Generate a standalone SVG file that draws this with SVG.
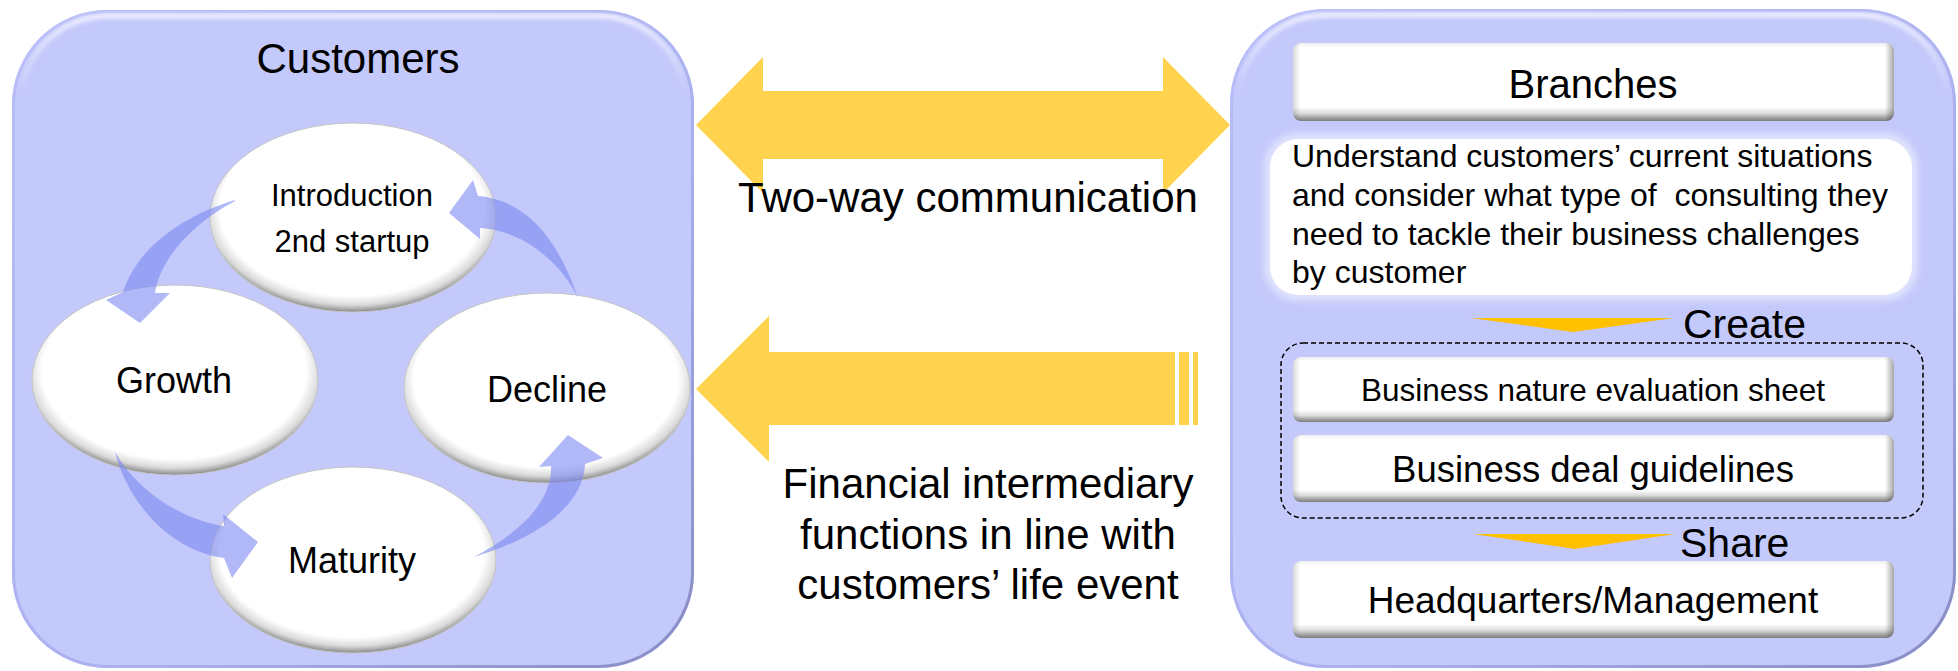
<svg xmlns="http://www.w3.org/2000/svg" width="1958" height="671" viewBox="0 0 1958 671">
<defs>
<style>
.t{font-family:"Liberation Sans",Arial,sans-serif;fill:#000}
.panel{fill:#c4c9fb}
.cyc{fill:#7b88f2;fill-opacity:0.6}
.big{fill:#ffd34e}
.chev{fill:#ffc000}
.ell{fill:url(#ellRim);stroke:#c4c4c4;stroke-width:1}
.box{fill:url(#boxV)}
.boxr{fill:url(#boxH)}
</style>
<radialGradient id="ellRim" cx="0.5" cy="0.46" r="0.55" fx="0.48" fy="0.42">
<stop offset="0" stop-color="#ffffff"/>
<stop offset="0.84" stop-color="#ffffff"/>
<stop offset="0.92" stop-color="#dadada"/>
<stop offset="0.97" stop-color="#9a9a9a"/>
<stop offset="1" stop-color="#5c5c5c"/>
</radialGradient>
<linearGradient id="boxV" x1="0" y1="0" x2="0" y2="1">
<stop offset="0" stop-color="#efefef"/>
<stop offset="0.06" stop-color="#ffffff"/>
<stop offset="0.82" stop-color="#ffffff"/>
<stop offset="0.9" stop-color="#dcdcdc"/>
<stop offset="0.96" stop-color="#a0a0a0"/>
<stop offset="1" stop-color="#7c7c7c"/>
</linearGradient>
<linearGradient id="boxH" x1="0" y1="0" x2="1" y2="0">
<stop offset="0" stop-color="#000" stop-opacity="0.15"/>
<stop offset="0.012" stop-color="#000" stop-opacity="0"/>
<stop offset="0.985" stop-color="#000" stop-opacity="0"/>
<stop offset="1" stop-color="#000" stop-opacity="0.35"/>
</linearGradient>
<linearGradient id="panelEdge" x1="0" y1="0" x2="1" y2="1">
<stop offset="0" stop-color="#b9befa"/>
<stop offset="0.6" stop-color="#aab0ee"/>
<stop offset="1" stop-color="#868bc2"/>
</linearGradient>
<linearGradient id="panelHl" x1="0" y1="0" x2="0" y2="1">
<stop offset="0" stop-color="#ffffff" stop-opacity="0.9"/>
<stop offset="0.12" stop-color="#ffffff" stop-opacity="0"/>
</linearGradient>
<filter id="blur2" x="-5%" y="-5%" width="110%" height="110%"><feGaussianBlur stdDeviation="2"/></filter>
<filter id="blur4" x="-10%" y="-20%" width="120%" height="140%"><feGaussianBlur stdDeviation="3"/></filter>
</defs>

<g id="customers-panel">
<rect class="panel" x="12" y="10" width="682" height="658" rx="95"/>
<rect x="13.5" y="11.5" width="679" height="655" rx="94" fill="none" stroke="url(#panelEdge)" stroke-width="3"/>
<rect x="20" y="16" width="666" height="644" rx="88" fill="none" stroke="url(#panelHl)" stroke-width="4" filter="url(#blur2)"/>
<text class="t" x="358" y="73" font-size="42" text-anchor="middle">Customers</text>
</g>

<g id="branches-panel">
<rect class="panel" x="1230" y="9" width="726" height="659" rx="95"/>
<rect x="1231.5" y="10.5" width="723" height="656" rx="94" fill="none" stroke="url(#panelEdge)" stroke-width="3"/>
<rect x="1238" y="15" width="710" height="645" rx="88" fill="none" stroke="url(#panelHl)" stroke-width="4" filter="url(#blur2)"/>
</g>

<g id="node-introduction">
<ellipse class="ell" cx="353" cy="217.5" rx="143" ry="94.5"/>
<text class="t" x="352" y="206" font-size="31" text-anchor="middle">Introduction</text>
<text class="t" x="352" y="252" font-size="31" text-anchor="middle">2nd startup</text>
</g>
<g id="node-growth">
<ellipse class="ell" cx="175" cy="380" rx="143" ry="95"/>
<text class="t" x="174" y="393" font-size="36" text-anchor="middle">Growth</text>
</g>
<g id="node-decline">
<ellipse class="ell" cx="547" cy="388" rx="143" ry="95"/>
<text class="t" x="547" y="402" font-size="36" text-anchor="middle">Decline</text>
</g>
<g id="node-maturity">
<ellipse class="ell" cx="353" cy="560" rx="143" ry="93"/>
<text class="t" x="352" y="573" font-size="36" text-anchor="middle">Maturity</text>
</g>

<g id="node-branches">
<rect class="box" x="1293" y="43" width="601" height="78" rx="8"/>
<rect class="boxr" x="1293" y="43" width="601" height="78" rx="8"/>
<text class="t" x="1593" y="98" font-size="40" text-anchor="middle">Branches</text>
</g>

<g id="node-understand">
<rect x="1264" y="133" width="654" height="168" rx="34" fill="#dfe2fd" filter="url(#blur4)"/>
<rect x="1270" y="139" width="642" height="156" rx="28" fill="#ffffff"/>
<text class="t" font-size="32" xml:space="preserve"><tspan x="1292" y="167">Understand customers’ current situations</tspan><tspan x="1292" y="206">and consider what type of  consulting they</tspan><tspan x="1292" y="245">need to tackle their business challenges</tspan><tspan x="1292" y="283">by customer</tspan></text>
</g>

<g id="group-create">
<rect x="1281" y="343" width="642" height="175" rx="22" fill="none" stroke="#000" stroke-width="1.5" stroke-dasharray="5,3"/>
</g>

<g id="node-evaluation-sheet">
<rect class="box" x="1293" y="357" width="601" height="65" rx="8"/>
<rect class="boxr" x="1293" y="357" width="601" height="65" rx="8"/>
<text class="t" x="1593" y="401" font-size="31.5" text-anchor="middle">Business nature evaluation sheet</text>
</g>

<g id="node-deal-guidelines">
<rect class="box" x="1293" y="435" width="601" height="67" rx="8"/>
<rect class="boxr" x="1293" y="435" width="601" height="67" rx="8"/>
<text class="t" x="1593" y="482" font-size="36.5" text-anchor="middle">Business deal guidelines</text>
</g>

<g id="node-headquarters">
<rect class="box" x="1293" y="561" width="601" height="77" rx="8"/>
<rect class="boxr" x="1293" y="561" width="601" height="77" rx="8"/>
<text class="t" x="1593" y="613" font-size="37" text-anchor="middle">Headquarters/Management</text>
</g>

<g id="connectors">
<path class="cyc" d="M235,200 C195,212 140,240 123,292 L106,300 L140,323 L170,293 L155,293 C160,260 190,225 235,201 Z"/>
<path class="cyc" d="M115,452 C125,495 165,550 224,558 L232,578 L258,542 L223,514 L224,526 C185,520 140,495 115,452 Z"/>
<path class="cyc" d="M474,557 C530,540 583,510 585,464 L603,458 L568,435 L539,467 L551,466 C552,505 515,535 474,557 Z"/>
<path class="cyc" d="M578,298 C560,245 530,200 478,196 L473,180 L449,213 L480,239 L480,228 C520,230 560,260 578,298 Z"/>

<polygon class="big" points="696,125 763,57 763,91 1163,91 1163,57 1230,125 1163,193 1163,159 763,159 763,193"/>
<text class="t" x="968" y="212" font-size="42" text-anchor="middle">Two-way communication</text>

<polygon class="big" points="696,389 769,316 769,352 1175,352 1175,425 769,425 769,462"/>
<rect class="big" x="1179" y="352" width="10" height="73"/>
<rect class="big" x="1193" y="352" width="5" height="73"/>
<text class="t" font-size="42" text-anchor="middle"><tspan x="988" y="498">Financial intermediary</tspan><tspan x="988" y="549">functions in line with</tspan><tspan x="988" y="599">customers’ life event</tspan></text>

<polygon class="chev" points="1471,318 1674,318 1573,332"/>
<text class="t" x="1683" y="338" font-size="41">Create</text>
<polygon class="chev" points="1473,534 1675,534 1575,549"/>
<text class="t" x="1680" y="557" font-size="41">Share</text>
</g>
</svg>
